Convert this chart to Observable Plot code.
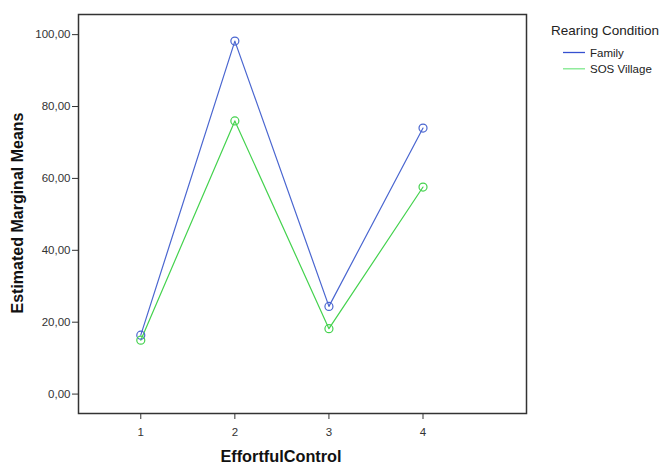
<!DOCTYPE html>
<html>
<head>
<meta charset="utf-8">
<script src="https://cdn.jsdelivr.net/npm/d3@7"></script>
<script src="https://cdn.jsdelivr.net/npm/@observablehq/plot@0.6"></script>
<style>
  html, body { margin: 0; padding: 0; background: #fff; }
  #chart svg { display: block; }
</style>
</head>
<body>
<div id="chart"></div>
<script>
const effortfulControl = [1, 2, 3, 4];
const conditions = ["Family", "SOS Village"];
const familyMeans = [16.4, 98.2, 24.4, 74.0];
const sosMeans = [15.0, 76.0, 18.2, 57.6];
const yTicks = [0, 20, 40, 60, 80, 100];
const colors = ["#4a66d0", "#44d24e"];
const legendColors = ["#3550d0", "#7ee88c"];

const data = [];
effortfulControl.forEach((ec, i) => {
  data.push({ec, mean: familyMeans[i], cond: conditions[0]});
  data.push({ec, mean: sosMeans[i], cond: conditions[1]});
});

const fmt = d => d.toFixed(2).replace(".", ",");
const FONT = "Liberation Sans, Arial, sans-serif";

const plot = Plot.plot({
  width: 670,
  height: 465,
  marginLeft: 78,
  marginRight: 144,
  marginTop: 14,
  marginBottom: 52,
  style: {fontFamily: FONT, fontSize: "11.5px", color: "#333", background: "#fff"},
  x: {type: "linear", domain: [0.338, 5.1]},
  y: {domain: [-5.4, 105.6]},
  color: {domain: conditions, range: colors},
  marks: [
    Plot.axisY({ticks: yTicks, tickFormat: fmt, tickSize: 6, tickPadding: 2, label: null, fontSize: 11.5}),
    Plot.axisX({ticks: effortfulControl, tickFormat: d => String(d), tickSize: 6, tickPadding: 8, label: null, fontSize: 11.5}),
    Plot.frame({stroke: "#333", strokeWidth: 1.5}),
    Plot.line(data, {x: "ec", y: "mean", z: "cond", stroke: "cond", strokeWidth: 1.2}),
    Plot.dot(data, {x: "ec", y: "mean", stroke: "cond", r: 4, strokeWidth: 1.2, fill: "none"})
  ]
});

document.getElementById("chart").appendChild(plot);

const svg = d3.select(plot);
// Axis titles
svg.append("text")
  .attr("transform", "translate(23,213) rotate(-90)")
  .attr("text-anchor", "middle")
  .attr("font-family", FONT)
  .attr("font-weight", "bold")
  .attr("font-size", 16)
  .attr("fill", "#111")
  .text("Estimated Marginal Means");
svg.append("text")
  .attr("x", 281).attr("y", 462)
  .attr("text-anchor", "middle")
  .attr("font-family", FONT)
  .attr("font-weight", "bold")
  .attr("font-size", 16.3)
  .attr("fill", "#111")
  .text("EffortfulControl");

// Legend
svg.append("text")
  .attr("x", 551).attr("y", 35)
  .attr("text-anchor", "start")
  .attr("font-family", FONT)
  .attr("font-size", 13.5)
  .attr("fill", "#222")
  .text("Rearing Condition");
conditions.forEach((c, i) => {
  const y = 52.5 + i * 16.3;
  svg.append("line")
    .attr("x1", 563).attr("x2", 585).attr("y1", y).attr("y2", y)
    .attr("stroke", legendColors[i]).attr("stroke-width", 1.3);
  svg.append("text")
    .attr("x", 590).attr("y", y + 4)
    .attr("text-anchor", "start")
    .attr("font-family", FONT)
    .attr("font-size", 11.5)
    .attr("fill", "#222")
    .text(c);
});
</script>
</body>
</html>
